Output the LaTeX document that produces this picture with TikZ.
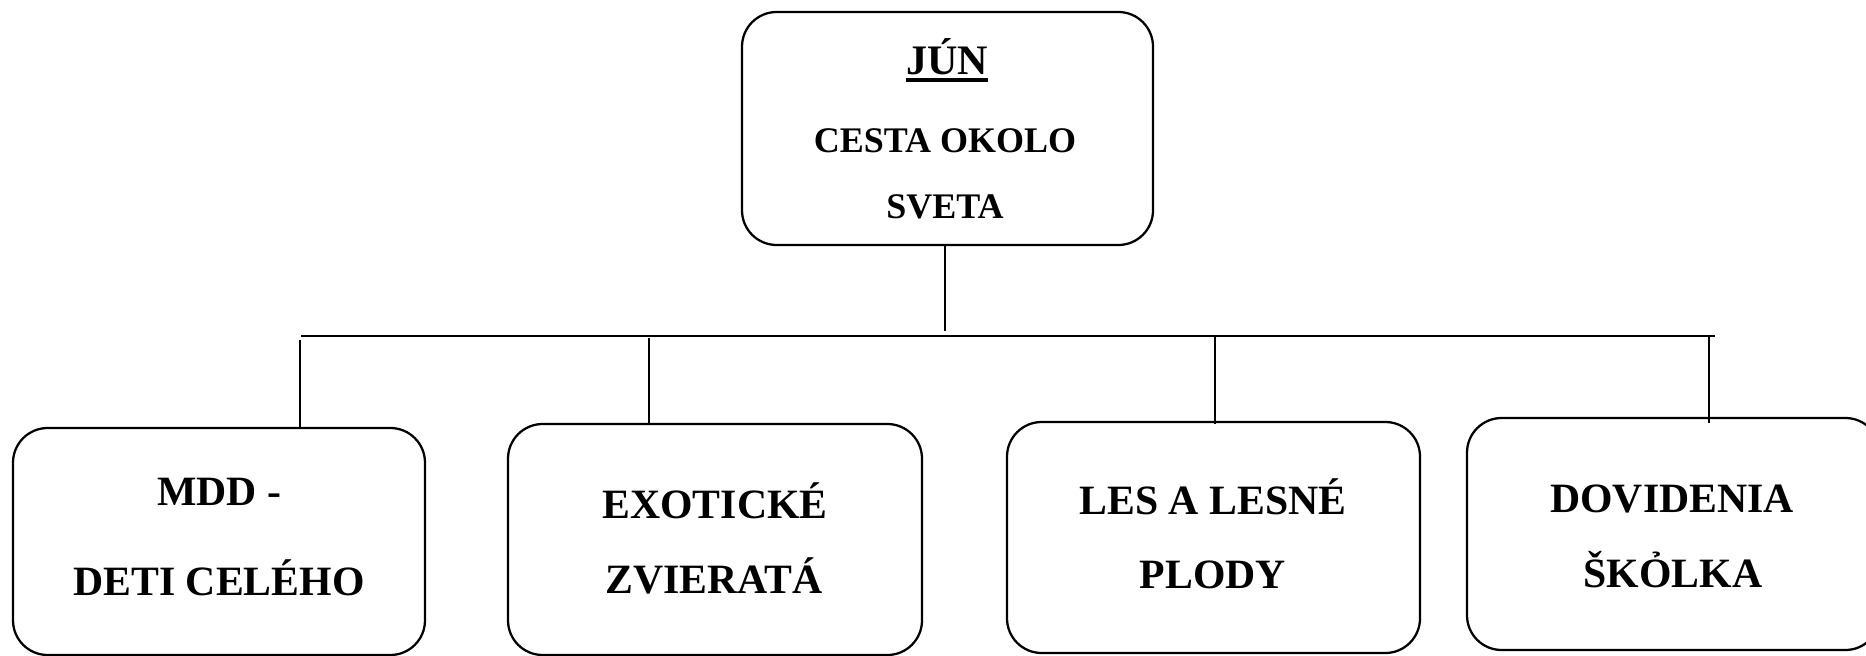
\documentclass[tikz,border=0pt]{standalone}
\usepackage{fontspec}
\setmainfont{Liberation Serif}
\begin{document}
\begin{tikzpicture}[x=0.75pt,y=-0.75pt,
  box/.style={draw=black,line width=1.7pt,rounded corners=26pt,inner sep=0pt},
  conn/.style={draw=black,line width=1.7pt},
  big/.style={anchor=base,inner sep=0pt,font=\fontsize{31.3pt}{36pt}\selectfont\bfseries},
  mid/.style={anchor=base,inner sep=0pt,font=\fontsize{27pt}{32pt}\selectfont\bfseries},
  head/.style={anchor=base,inner sep=0pt,font=\fontsize{31.5pt}{36pt}\selectfont\bfseries}]
\useasboundingbox (0,0) rectangle (1866,656);
% boxes
\node[box,minimum width=411*0.75pt,minimum height=233*0.75pt] (top) at (947.5,128.5) {};
\node[box,minimum width=412*0.75pt,minimum height=227*0.75pt] (b1) at (219,541.5) {};
\node[box,minimum width=414*0.75pt,minimum height=231*0.75pt] (b2) at (715,539.5) {};
\node[box,minimum width=413*0.75pt,minimum height=231*0.75pt] (b3) at (1213.5,537.5) {};
\node[box,minimum width=413*0.75pt,minimum height=232*0.75pt] (b4) at (1673.5,534) {};
% texts
\node[head] (t0) at (947,75) {JÚN};
\draw[line width=2.6pt] ([yshift=-3.8pt]t0.base west) -- ([yshift=-3.8pt]t0.base east);
\node[mid] (t1) at (945,153) {CESTA OKOLO};
\node[mid] (t2) at (945,218) {SVETA};
\node[big] (l1a) at (219,505) {MDD -};
\node[big] (l1b) at (219,595) {DETI CELÉHO};
\node[big] (l2a) at (715,518) {EXOTICKÉ};
\node[big] (l2b) at (714,593) {ZVIERATÁ};
\node[big] (l3a) at (1213,514) {LES A LESNÉ};
\node[big] (l3b) at (1213,588) {PLODY};
\node[big] (l4a) at (1672,512) {DOVIDENIA};
\node[big] (l4b) at (1673,587) {ŠKỎLKA};
% connectors
\coordinate (tj) at (945,331);
\coordinate (hl) at (301,336);
\coordinate (hr) at (1715,336);
\coordinate (j1) at (300,340);
\coordinate (j2) at (649,338);
\coordinate (j3) at (1215,336);
\coordinate (j4) at (1709,336);
\coordinate (e3) at (1215,424);
\coordinate (e4) at (1709,423);
\draw[conn] (top.south -| tj) -- (tj);
\draw[conn] (hl) -- (hr);
\draw[conn] (j1) -- (j1 |- b1.north);
\draw[conn] (j2) -- (j2 |- b2.north);
\draw[conn] (j3) -- (e3);
\draw[conn] (j4) -- (e4);
\end{tikzpicture}
\end{document}
